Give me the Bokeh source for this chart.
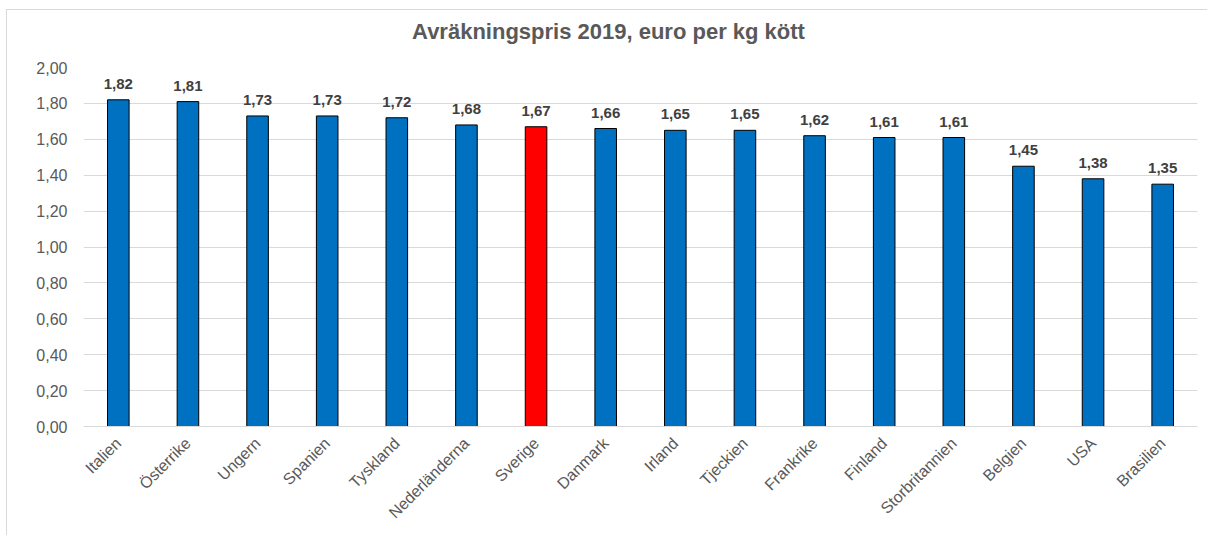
import math
from bokeh.plotting import figure
from bokeh.layouts import column
from bokeh.models import ColumnDataSource, CustomJSTickFormatter, FixedTicker, LabelSet, Div
from bokeh.core.properties import value
from bokeh.embed import file_html
from bokeh.resources import INLINE

countries = ["Italien", "Österrike", "Ungern", "Spanien", "Tyskland", "Nederländerna",
             "Sverige", "Danmark", "Irland", "Tjeckien", "Frankrike", "Finland",
             "Storbritannien", "Belgien", "USA", "Brasilien"]
prices = [1.82, 1.81, 1.73, 1.73, 1.72, 1.68, 1.67, 1.66, 1.65, 1.65, 1.62, 1.61,
          1.61, 1.45, 1.38, 1.35]
highlight = "Sverige"
title = "Avräkningspris 2019, euro per kg kött"
y_ticks = [0.0, 0.2, 0.4, 0.6, 0.8, 1.0, 1.2, 1.4, 1.6, 1.8, 2.0]

colors = ["#FF0000" if c == highlight else "#0070C0" for c in countries]
labels = [f"{v:.2f}".replace(".", ",") for v in prices]
src = ColumnDataSource(dict(x=countries, top=prices, color=colors, label=labels))

p = figure(x_range=countries, y_range=(0, 2.0), width=1200, height=478,
           output_backend="svg", toolbar_location=None,
           min_border_left=76, min_border_right=10, min_border_top=10, min_border_bottom=109)

p.vbar(x="x", top="top", width=0.31, source=src, fill_color="color",
       line_color="#000000", line_width=1)

p.add_layout(LabelSet(x="x", y="top", text="label", source=src, text_align="center",
                      text_baseline="bottom", y_offset=11,
                      text_font=value("Liberation Sans"),
                      text_font_style="bold", text_font_size="15px", text_color="#404040"))

p.outline_line_color = None
p.xgrid.grid_line_color = None
p.ygrid.grid_line_color = "#d9d9d9"
p.ygrid.grid_line_width = 1

p.yaxis.ticker = FixedTicker(ticks=y_ticks)
p.yaxis.formatter = CustomJSTickFormatter(code="return tick.toFixed(2).replace('.', ',');")
p.yaxis.axis_line_color = None
p.yaxis.major_tick_line_color = None
p.yaxis.minor_tick_line_color = None
p.yaxis.major_label_text_font = "Liberation Sans"
p.yaxis.major_label_text_font_size = "16px"
p.yaxis.major_label_text_color = "#595959"
p.yaxis.major_label_standoff = 10

p.xaxis.axis_line_color = "#d9d9d9"
p.xaxis.major_tick_line_color = None
p.xaxis.minor_tick_line_color = None
p.xaxis.major_label_orientation = math.pi / 4
p.xaxis.major_label_text_font = "Liberation Sans"
p.xaxis.major_label_text_font_size = "16px"
p.xaxis.major_label_text_color = "#595959"
p.xaxis.major_label_standoff = 8
p.x_range.range_padding = 0

head = Div(text=('<div style="font-family:\'Liberation Sans\';font-size:22px;font-weight:bold;'
                 'color:#595959;text-align:center;padding-top:6px;padding-left:9px;'
                 'width:1194px;">' + title + '</div>'),
           width=1200, height=47, margin=0)

layout = column(head, p, spacing=0)
layout.styles = {"border-left": "1px solid #d9d9d9", "border-top": "1px solid #d9d9d9",
                 "margin-left": "6px", "margin-top": "9px"}

open("out.html", "w").write(file_html(layout, INLINE))
